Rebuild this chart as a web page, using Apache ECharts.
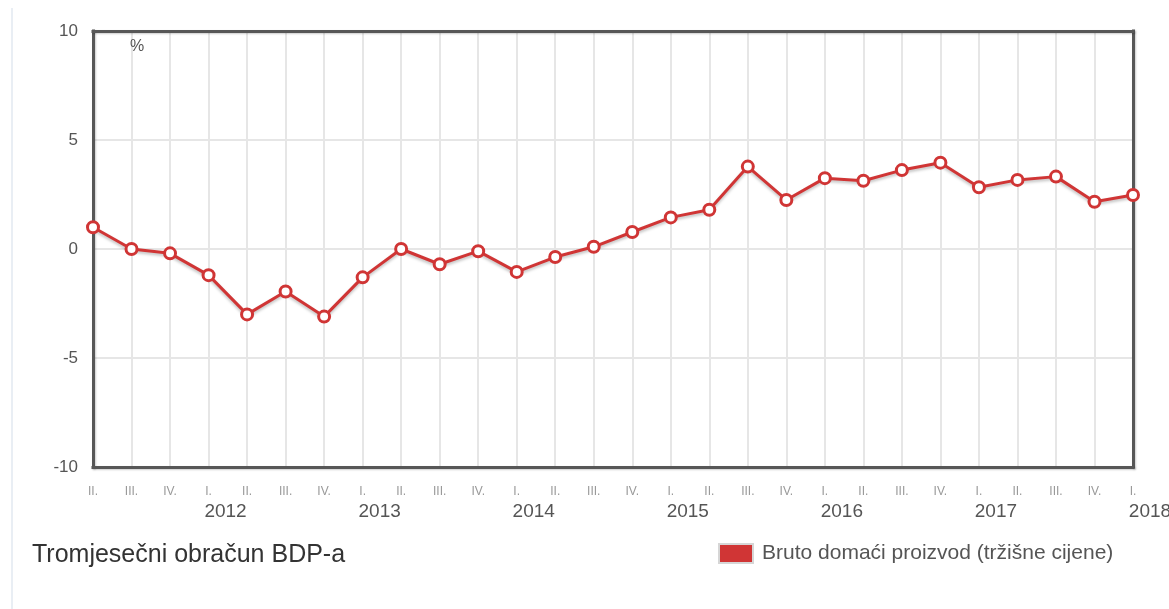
<!DOCTYPE html>
<html>
<head>
<meta charset="utf-8">
<script src="https://cdn.jsdelivr.net/npm/echarts@6/dist/echarts.min.js"></script>
<style>
html,body{margin:0;padding:0;background:#fff;}
#c{width:1169px;height:609px;}
</style>
</head>
<body>
<div id="c"></div>
<script>
var quarters = ['II.','III.','IV.',
  'I.','II.','III.','IV.',
  'I.','II.','III.','IV.',
  'I.','II.','III.','IV.',
  'I.','II.','III.','IV.',
  'I.','II.','III.','IV.',
  'I.','II.','III.','IV.',
  'I.'];
var years = ['2011','2011','2011',
  '2012','2012','2012','2012',
  '2013','2013','2013','2013',
  '2014','2014','2014','2014',
  '2015','2015','2015','2015',
  '2016','2016','2016','2016',
  '2017','2017','2017','2017',
  '2018'];
var gdpValues = [1.0, 0.0, -0.2,
  -1.2, -3.0, -1.95, -3.1,
  -1.3, 0.0, -0.7, -0.1,
  -1.05, -0.37, 0.1, 0.78,
  1.45, 1.8, 3.78, 2.25,
  3.25, 3.13, 3.62, 3.96,
  2.83, 3.17, 3.32, 2.17,
  2.48];
var yTicks = [-10, -5, 0, 5, 10];
var seriesName = 'Bruto domaći proizvod (tržišne cijene)';
var titleText = 'Tromjesečni obračun BDP-a';
var unitText = '%';

var categories = quarters.map(function(q, i){ return q + ' ' + years[i]; });

var chart = echarts.init(document.getElementById('c'), null, {renderer:'canvas'});
var font = '"Liberation Sans", Arial, sans-serif';
var yMin = yTicks[0], yMax = yTicks[yTicks.length - 1];
function borderLine(){
  return {show: true, onZero: false, lineStyle: {color: '#575757', width: 3, cap: 'square',
    shadowColor: 'rgba(0,0,0,0.2)', shadowBlur: 2, shadowOffsetX: 1, shadowOffsetY: 1}};
}
function borderX(pos){
  return {type: 'category', data: categories, boundaryGap: false, position: pos, z: 3,
    axisLine: borderLine(), axisTick: {show: false}, axisLabel: {show: false}, splitLine: {show: false}};
}
function borderY(pos){
  return {type: 'value', min: yMin, max: yMax, interval: 5, position: pos, z: 3,
    axisLine: borderLine(), axisTick: {show: false}, axisLabel: {show: false}, splitLine: {show: false}};
}

chart.setOption({
  animation: false,
  backgroundColor: '#fff',
  textStyle: {fontFamily: font},
  title: {
    text: titleText,
    left: 27, top: 538,
    textStyle: {fontFamily: font, fontSize: 25, fontWeight: 'normal', color: '#333'}
  },
  legend: {
    left: 718, top: 543,
    padding: 0,
    icon: 'rect',
    itemWidth: 34, itemHeight: 19,
    itemGap: 10,
    itemStyle: {color: '#d03535', borderColor: '#d6d6d6', borderWidth: 2},
    textStyle: {fontFamily: font, fontSize: 21, color: '#555', padding: [0, 0, 0, 4]},
    data: [seriesName]
  },
  graphic: [
    {type: 'line', z: 0, shape: {x1: 12, y1: 8, x2: 12, y2: 609}, style: {stroke: '#e2e8f0', lineWidth: 1.5}},
    {type: 'text', z: 100, left: 130, top: 39, style: {text: unitText, fontFamily: font, fontSize: 16, fill: '#555'}}
  ],
  grid: {
    left: 93, right: 36, top: 31, bottom: 142,
    show: false,
    containLabel: false,
    outerBoundsMode: 'none'
  },
  xAxis: [{
    type: 'category',
    data: categories,
    boundaryGap: false,
    position: 'bottom',
    z: 0,
    axisLine: {show: false, onZero: false},
    axisTick: {show: false},
    splitLine: {show: true, lineStyle: {color: '#e6e6e6', width: 2}},
    axisLabel: {
      interval: 0,
      margin: 17,
      fontFamily: font,
      formatter: function(v, i){
        var q = quarters[i];
        var s = '{q|' + q + '}';
        if (q === 'I.') s += '\n{y|' + years[i] + '}';
        else s += '\n{y| }';
        return s;
      },
      rich: {
        q: {fontSize: 12, color: '#999', fontFamily: font, lineHeight: 16},
        y: {fontSize: 19, color: '#555', fontFamily: font, lineHeight: 24, padding: [0, 0, 0, 34]}
      }
    }
  }, borderX('bottom'), borderX('top')],
  yAxis: [{
    type: 'value',
    min: yMin, max: yMax, interval: 5,
    position: 'left',
    z: 0,
    axisLine: {show: false},
    axisTick: {show: false},
    splitLine: {show: true, lineStyle: {color: '#e6e6e6', width: 2}},
    axisLabel: {fontFamily: font, fontSize: 17, color: '#555', margin: 15}
  }, borderY('left'), borderY('right')],
  series: [{
    name: seriesName,
    type: 'line',
    xAxisIndex: 0,
    yAxisIndex: 0,
    data: gdpValues,
    color: '#d03535',
    symbol: 'circle',
    symbolSize: 11,
    itemStyle: {color: '#fff', borderColor: '#d03535', borderWidth: 3},
    lineStyle: {color: '#d03535', width: 3, shadowColor: 'rgba(0,0,0,0.25)', shadowBlur: 3, shadowOffsetY: 2},
    z: 5
  }]
});
</script>
</body>
</html>
